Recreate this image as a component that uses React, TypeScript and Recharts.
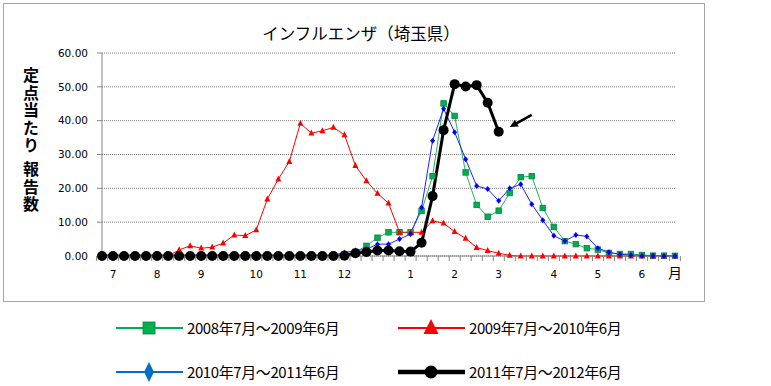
import React from 'react';
import { LineChart, Line, XAxis, YAxis, CartesianGrid, ReferenceLine } from 'recharts';

// one category per week, July -> June (53 weeks); only some carry a month label
const weekLabels = [
  '', '7', '', '', '', '8', '', '', '', '9', '', '', '', '', '10', '', '', '',
  '11', '', '', '', '12', '', '', '', '', '', '1', '', '', '', '2', '', '', '',
  '3', '', '', '', '', '4', '', '', '', '5', '', '', '', '6', '', '', '月',
];

const season0809 = [
  0, 0, 0, 0, 0, 0, 0, 0, 0, 0, 0, 0, 0, 0, 0, 0, 0, 0, 0, 0, 0, 0,
  0.5, 1.2, 3.0, 5.4, 7.0, 7.0, 7.0, 13.3, 23.6, 45.1, 41.4, 24.7, 15.1, 11.6, 13.4,
  18.6, 23.3, 23.6, 14.2, 8.6, 4.4, 3.5, 2.3, 1.9, 0.9, 0.6, 0.6, 0.3, 0.1, 0.1, 0.05,
];

const season0910 = [
  0, 0, 0, 0, 0, 0, 0, 1.8, 3.0, 2.3, 2.6, 3.8, 6.2, 6.0, 7.7, 16.8, 22.7, 27.9,
  39.2, 36.3, 37.0, 38.0, 35.8, 26.7, 22.2, 18.5, 15.6, 7.0, 7.0, 7.0, 10.4, 9.7,
  7.2, 5.2, 2.5, 1.6, 0.8, 0.2, 0, 0, 0, 0, 0, 0, 0, 0, 0, 0, 0, 0, 0, 0, 0,
];

const season1011 = [
  0, 0, 0, 0, 0, 0, 0, 0, 0, 0, 0, 0, 0, 0, 0, 0, 0, 0, 0, 0, 0,
  0.3, 1.0, 1.6, 2.0, 3.5, 3.5, 5.0, 6.5, 14.3, 34.1, 43.5, 36.6, 28.6, 20.7, 19.8,
  16.3, 20.0, 21.2, 15.3, 10.6, 6.0, 4.4, 6.2, 5.8, 2.3, 1.1, 0.5, 0.3, 0.1, 0.1, 0, 0,
];

const season1112 = [
  0, 0, 0, 0, 0, 0, 0, 0, 0, 0, 0, 0, 0, 0, 0, 0, 0, 0, 0, 0, 0, 0,
  0.1, 0.8, 1.2, 1.6, 1.6, 1.4, 1.3, 3.9, 17.7, 37.2, 50.8, 50.1, 50.5, 45.3, 36.7,
  null, null, null, null, null, null, null, null, null, null, null, null, null, null, null, null,
];

const seriesNames = [
  '2008年7月～2009年6月',
  '2009年7月～2010年6月',
  '2010年7月～2011年6月',
  '2011年7月～2012年6月',
];

const yTicks = [0, 10, 20, 30, 40, 50, 60];

// arrow pointing at the latest week
const arrowFrom = { x: 39, y: 41.7 };
const arrowTo = { x: 37, y: 38.1 };

const data = weekLabels.map((label, i) => ({
  key: i,
  label,
  s0809: season0809[i],
  s0910: season0910[i],
  s1011: season1011[i],
  s1112: season1112[i],
}));

const BAND = (675 - 102) / 53;
const JP = '"Noto Sans CJK JP", sans-serif';
const AXIS = '#868686';

const WeekTick = (props: any) => {
  const { x, y, payload, index } = props;
  const axisY = y - 7;
  return (
    <g>
      <line x1={x - BAND / 2} x2={x - BAND / 2} y1={axisY} y2={axisY + 5} stroke={AXIS} />
      {index === weekLabels.length - 1 && (
        <line x1={x + BAND / 2} x2={x + BAND / 2} y1={axisY} y2={axisY + 5} stroke={AXIS} />
      )}
      <text
        x={x}
        y={axisY + 22}
        textAnchor="middle"
        fontSize={payload.value === 52 ? 14 : 10.5}
        fontFamily={payload.value === 52 ? JP : '"DejaVu Sans", sans-serif'}
        fill="#000"
      >
        {weekLabels[payload.value]}
      </text>
    </g>
  );
};

const squareDot = (fill: string, stroke: string, s: number) => (p: any) =>
  p.cy == null ? <g key={p.index} /> : (
    <rect key={p.index} x={p.cx - s / 2} y={p.cy - s / 2} width={s} height={s} fill={fill} stroke={stroke} strokeWidth={0.8} />
  );

const triangleDot = (fill: string, s: number) => (p: any) =>
  p.cy == null ? <g key={p.index} /> : (
    <polygon
      key={p.index}
      points={`${p.cx},${p.cy - s * 0.6} ${p.cx - s / 2},${p.cy + s * 0.4} ${p.cx + s / 2},${p.cy + s * 0.4}`}
      fill={fill}
    />
  );

const diamondDot = (fill: string, w: number, h: number) => (p: any) =>
  p.cy == null ? <g key={p.index} /> : (
    <polygon
      key={p.index}
      points={`${p.cx},${p.cy - h / 2} ${p.cx + w / 2},${p.cy} ${p.cx},${p.cy + h / 2} ${p.cx - w / 2},${p.cy}`}
      fill={fill}
    />
  );

const circleDot = (fill: string, r: number) => (p: any) =>
  p.cy == null ? <g key={p.index} /> : <circle key={p.index} cx={p.cx} cy={p.cy} r={r} fill={fill} />;

const ArrowShape = (p: any) => {
  const { x1, y1, x2, y2 } = p;
  const ang = Math.atan2(y2 - y1, x2 - x1);
  const len = 9;
  const spread = 0.45;
  const ax = x2 - len * Math.cos(ang - spread);
  const ay = y2 - len * Math.sin(ang - spread);
  const bx = x2 - len * Math.cos(ang + spread);
  const by = y2 - len * Math.sin(ang + spread);
  const mx = x2 - len * 0.8 * Math.cos(ang);
  const my = y2 - len * 0.8 * Math.sin(ang);
  return (
    <g>
      <line x1={x1} y1={y1} x2={mx} y2={my} stroke="#000" strokeWidth={2.5} />
      <polygon points={`${x2},${y2} ${ax},${ay} ${bx},${by}`} fill="#000" />
    </g>
  );
};

const legendItems = [
  { name: seriesNames[0], color: '#00b050', width: 2, marker: 'square', col: 0, row: 0 },
  { name: seriesNames[1], color: '#ff0000', width: 2, marker: 'triangle', col: 1, row: 0 },
  { name: seriesNames[2], color: '#0070c0', width: 2, marker: 'diamond', col: 0, row: 1 },
  { name: seriesNames[3], color: '#000000', width: 4.5, marker: 'circle', col: 1, row: 1 },
];

function LegendBlock() {
  return (
    <svg width={771} height={86} style={{ position: 'absolute', left: 0, top: 300 }}>
      {legendItems.map((it) => {
        const x0 = it.col === 0 ? 116 : 398;
        const cy = it.row === 0 ? 28 : 72;
        const mx = x0 + 33;
        let marker;
        if (it.marker === 'square') {
          marker = <rect x={mx - 6} y={cy - 6} width={12} height={12} fill={it.color} stroke="#00863f" strokeWidth={0.8} />;
        } else if (it.marker === 'triangle') {
          marker = <polygon points={`${mx},${cy - 9} ${mx - 7.5},${cy + 6} ${mx + 7.5},${cy + 6}`} fill={it.color} />;
        } else if (it.marker === 'diamond') {
          marker = <polygon points={`${mx},${cy - 10} ${mx + 5},${cy} ${mx},${cy + 10} ${mx - 5},${cy}`} fill={it.color} />;
        } else {
          marker = <circle cx={mx} cy={cy} r={6.5} fill={it.color} />;
        }
        return (
          <g key={it.name}>
            <line x1={x0} x2={x0 + 67} y1={cy} y2={cy} stroke={it.color} strokeWidth={it.width} />
            {marker}
            <text x={x0 + 71} y={cy + 6} fontSize={15} letterSpacing={-0.4} fontFamily={JP} fill="#000">
              {it.name}
            </text>
          </g>
        );
      })}
    </svg>
  );
}

export default function App() {
  return (
    <div style={{ position: 'absolute', left: 0, top: 0, width: 771, height: 386, background: '#fff' }}>
      <div
        style={{
          position: 'absolute', left: 3, top: 3, width: 702, height: 299,
          border: '1px solid #a6a6a6', boxSizing: 'border-box',
        }}
      />
      <div
        style={{
          position: 'absolute', left: 0, top: 21, width: 722, textAlign: 'center',
          fontFamily: JP, fontSize: 16.5, color: '#000',
        }}
      >
        インフルエンザ（埼玉県）
      </div>
      <div
        style={{
          position: 'absolute', left: 23, top: 67, writingMode: 'vertical-rl',
          fontFamily: JP, fontSize: 16, fontWeight: 700, letterSpacing: 1.5, lineHeight: '16px',
        }}
      >
        <span>定点当たり</span>
        <span style={{ marginTop: 6 }}>報告数</span>
      </div>
      <div style={{ position: 'absolute', left: 0, top: 0 }}>
        <LineChart
          width={771}
          height={386}
          data={data}
          margin={{ top: 53, right: 96, left: 42, bottom: 100 }}
          style={{ fontFamily: '"DejaVu Sans", sans-serif' }}
        >
          <CartesianGrid vertical={false} stroke="#808080" strokeDasharray="1 1" />
          <XAxis
            dataKey="key"
            type="category"
            interval={0}
            height={30}
            tickSize={5}
            tickMargin={2}
            tickLine={false}
            axisLine={{ stroke: AXIS }}
            tick={<WeekTick />}
          />
          <YAxis
            domain={[0, 60]}
            ticks={yTicks}
            width={60}
            tickSize={5}
            tickMargin={9}
            tickFormatter={(v: number) => v.toFixed(2)}
            tick={{ fontSize: 10.5, fill: '#000' }}
            tickLine={{ stroke: AXIS }}
            axisLine={{ stroke: AXIS }}
          />
          <Line
            dataKey="s0809"
            type="linear"
            stroke="#1fb85a"
            strokeWidth={1}
            dot={squareDot('#00b050', '#00863f', 5.5)}
            activeDot={false}
            isAnimationActive={false}
          />
          <Line
            dataKey="s0910"
            type="linear"
            stroke="#ff0000"
            strokeWidth={1}
            dot={triangleDot('#ff0000', 6)}
            activeDot={false}
            isAnimationActive={false}
          />
          <Line
            dataKey="s1011"
            type="linear"
            stroke="#2222ff"
            strokeWidth={1}
            dot={diamondDot('#0000ff', 5, 6)}
            activeDot={false}
            isAnimationActive={false}
          />
          <Line
            dataKey="s1112"
            type="linear"
            stroke="#000000"
            strokeWidth={3}
            dot={circleDot('#000000', 5)}
            activeDot={false}
            connectNulls={false}
            isAnimationActive={false}
          />
          <ReferenceLine segment={[arrowFrom, arrowTo]} shape={ArrowShape} ifOverflow="visible" />
        </LineChart>
      </div>
      <LegendBlock />
    </div>
  );
}
